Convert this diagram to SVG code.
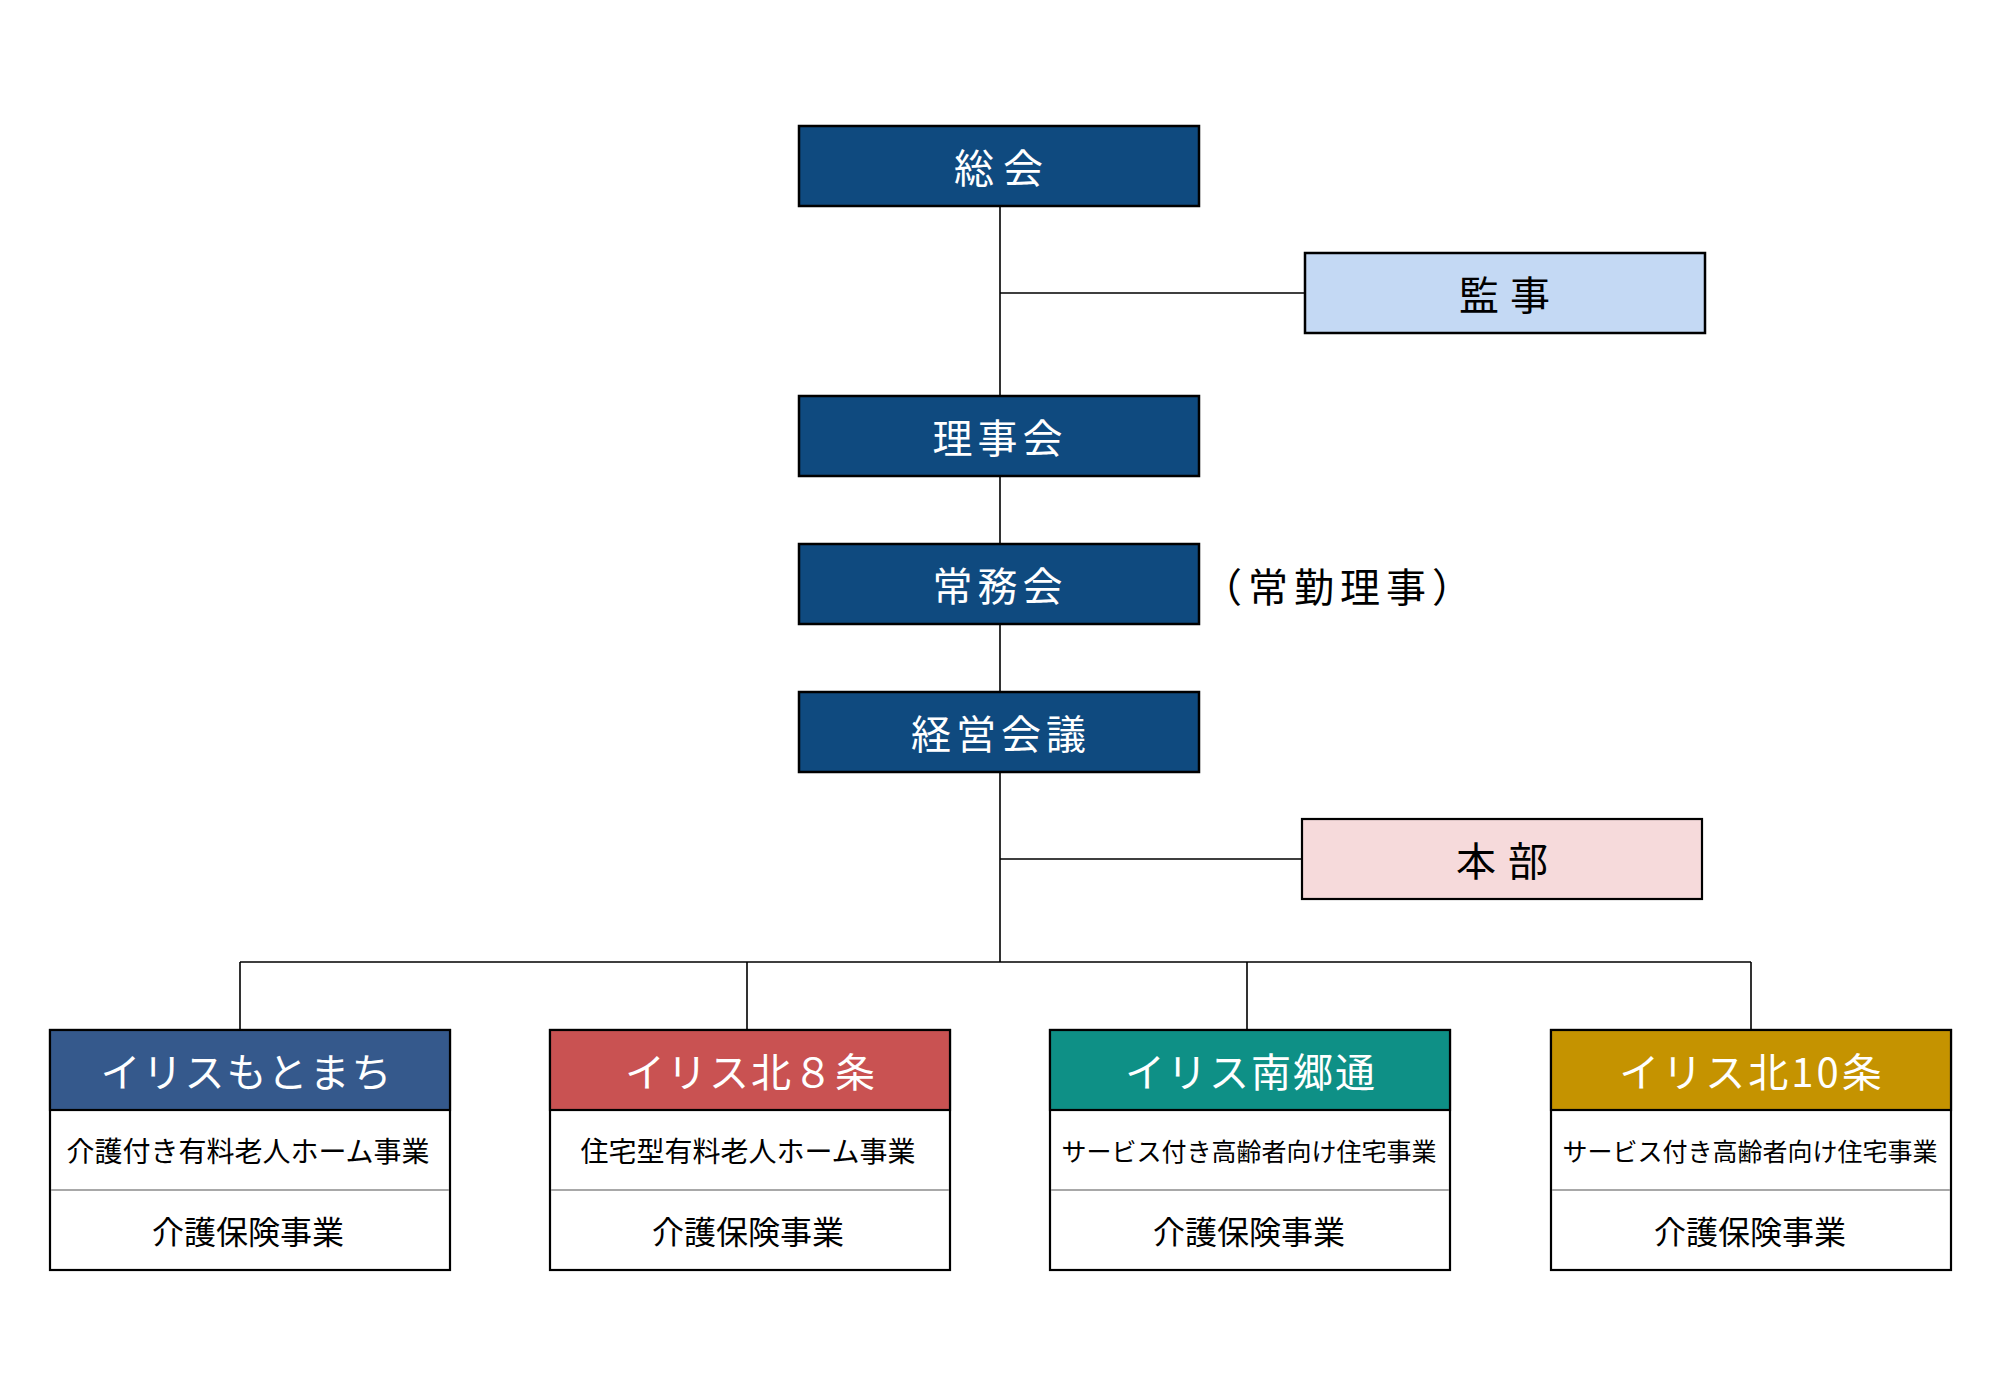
<svg xmlns="http://www.w3.org/2000/svg" width="2000" height="1400" viewBox="0 0 2000 1400">
<style>
text{font-family:"Noto Sans CJK JP","Noto Sans CJK SC",sans-serif;dominant-baseline:central;text-anchor:middle}
.dark{fill:#0F4A7F;stroke:#000;stroke-width:2.5}
.wt{fill:#fff;font-size:40px}
.bt{fill:#000;font-size:40px}
.con{stroke:#000;stroke-width:1.6;fill:none}
.frame{fill:#fff;stroke:#000;stroke-width:2.2}
.sep{stroke:#a8a8a8;stroke-width:2}
.hl{stroke:#000;stroke-width:2}
.r1{font-size:28px;fill:#000}
.r2{font-size:32px;fill:#000}
</style>
<rect width="2000" height="1400" fill="#fff"/>
<g id="connectors">
<path class="con" d="M1000 206V396M1000 476V544M1000 624V692M1000 772V962M1000 293H1305M1000 859H1302M240 962H1751M240 962V1030M747 962V1030M1247 962V1030M1751 962V1030"/>
</g>
<g id="soukai">
<rect class="dark" x="799" y="126" width="400" height="80"/>
<text class="wt" x="1003" y="166" style="letter-spacing:9px">総会</text>
</g>
<g id="kanji">
<rect x="1305" y="253" width="400" height="80" fill="#C4D9F4" stroke="#000" stroke-width="2.5"/>
<text class="bt" x="1510" y="293" style="letter-spacing:11px">監事</text>
</g>
<g id="rijikai">
<rect class="dark" x="799" y="396" width="400" height="80"/>
<text class="wt" x="1000" y="436" style="letter-spacing:5px">理事会</text>
</g>
<g id="joumukai">
<rect class="dark" x="799" y="544" width="400" height="80"/>
<text class="wt" x="1000" y="584" style="letter-spacing:5px">常務会</text>
<text class="bt" x="1202" y="585" style="text-anchor:start;letter-spacing:6px">（常勤理事）</text>
</g>
<g id="keiei">
<rect class="dark" x="799" y="692" width="400" height="80"/>
<text class="wt" x="1001" y="732" style="letter-spacing:5px">経営会議</text>
</g>
<g id="honbu">
<rect x="1302" y="819" width="400" height="80" fill="#F6DADB" stroke="#000" stroke-width="2.2"/>
<text class="bt" x="1508" y="859" style="letter-spacing:12px">本部</text>
</g>
<g id="motomachi">
<rect class="frame" x="50" y="1030" width="400" height="240"/>
<rect x="50" y="1030" width="400" height="80" fill="#35598C" stroke="#000" stroke-width="2.2"/>
<line class="sep" x1="51" y1="1190" x2="449" y2="1190"/>
<text class="wt" x="247" y="1070" style="letter-spacing:2px">イリスもとまち</text>
<text class="r1" x="248" y="1150">介護付き有料老人ホーム事業</text>
<text class="r2" x="248" y="1230">介護保険事業</text>
</g>
<g id="kita8">
<rect class="frame" x="550" y="1030" width="400" height="240"/>
<rect x="550" y="1030" width="400" height="80" fill="#C95252" stroke="#000" stroke-width="2.2"/>
<line class="sep" x1="551" y1="1190" x2="949" y2="1190"/>
<text class="wt" x="751" y="1070" style="letter-spacing:2px">イリス北８条</text>
<text class="r1" x="748" y="1150">住宅型有料老人ホーム事業</text>
<text class="r2" x="748" y="1230">介護保険事業</text>
</g>
<g id="minamigoudori">
<rect class="frame" x="1050" y="1030" width="400" height="240"/>
<rect x="1050" y="1030" width="400" height="80" fill="#0E9086" stroke="#000" stroke-width="2.2"/>
<line class="sep" x1="1051" y1="1190" x2="1449" y2="1190"/>
<text class="wt" x="1251" y="1070" style="letter-spacing:2px">イリス南郷通</text>
<text class="r1" x="1249" y="1150" style="font-size:25px">サービス付き高齢者向け住宅事業</text>
<text class="r2" x="1249" y="1230">介護保険事業</text>
</g>
<g id="kita10">
<rect class="frame" x="1551" y="1030" width="400" height="240"/>
<rect x="1551" y="1030" width="400" height="80" fill="#C59300" stroke="#000" stroke-width="2.2"/>
<line class="sep" x1="1552" y1="1190" x2="1950" y2="1190"/>
<text class="wt" x="1752" y="1070" style="letter-spacing:3px">イリス北10条</text>
<text class="r1" x="1750" y="1150" style="font-size:25px">サービス付き高齢者向け住宅事業</text>
<text class="r2" x="1750" y="1230">介護保険事業</text>
</g>
</svg>
